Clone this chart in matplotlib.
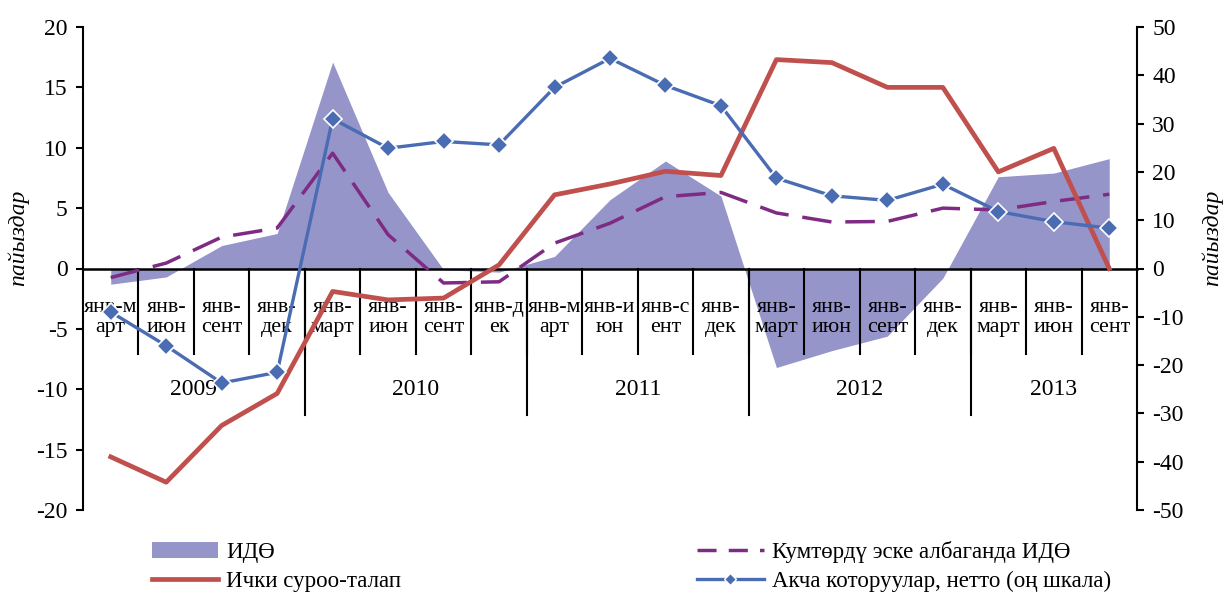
import matplotlib
matplotlib.use("Agg")
import matplotlib.pyplot as plt
from matplotlib.patches import Patch
from matplotlib.lines import Line2D

plt.rcParams["font.family"] = ["Liberation Serif", "DejaVu Serif"]
plt.rcParams["axes.unicode_minus"] = False

periods = ["янв-м\nарт", "янв-\nиюн", "янв-\nсент", "янв-\nдек",
           "янв-\nмарт", "янв-\nиюн", "янв-\nсент", "янв-д\nек",
           "янв-м\nарт", "янв-и\nюн", "янв-с\nент", "янв-\nдек",
           "янв-\nмарт", "янв-\nиюн", "янв-\nсент", "янв-\nдек",
           "янв-\nмарт", "янв-\nиюн", "янв-\nсент"]
years = ["2009", "2010", "2011", "2012", "2013"]
year_len = [4, 4, 4, 4, 3]

# left axis, percent
gdp = [-1.3, -0.7, 1.9, 2.9, 17.1, 6.3, -0.1, -0.3, 1.0, 5.7, 8.9, 6.0,
       -8.2, -6.8, -5.6, -0.8, 7.6, 7.9, 9.1]
gdp_ex_kumtor = [-0.75, 0.45, 2.6, 3.35, 9.55, 2.8, -1.2, -1.1, 2.1, 3.75, 5.95, 6.3,
                 4.6, 3.85, 3.9, 5.0, 4.85, 5.55, 6.15]
demand = [-15.6, -17.7, -13.0, -10.35, -1.9, -2.6, -2.45, 0.3, 6.1, 7.0, 8.05, 7.7,
          17.3, 17.05, 15.0, 15.0, 8.0, 9.95, 0.0]
# right axis
transfers = [-9.0, -16.0, -23.7, -21.5, 31.0, 24.9, 26.3, 25.6, 37.5, 43.5, 37.9, 33.7,
             18.7, 15.05, 14.1, 17.45, 11.8, 9.7, 8.35]

c_area = "#9595C9"
c_red = "#C0504D"
c_blue = "#4A6CB3"
c_purple = "#7E2B83"
fs = 17

fig = plt.figure(figsize=(12.28, 5.99), dpi=100)
ax = fig.add_axes([83 / 1228, 1 - 510 / 599, 1054 / 1228, 483 / 599])
x = list(range(len(periods)))

ax.fill_between(x, 0, gdp, color=c_area, lw=0, zorder=1)
ax.plot(x, gdp_ex_kumtor, color=c_purple, lw=2.5, dashes=(8.5, 4), zorder=3)
ax.plot(x, demand, color=c_red, lw=3.4, zorder=4)

ax.set_xlim(-0.5, len(periods) - 0.5)
ax.set_ylim(-20, 20)
ax.set_yticks(range(-20, 21, 5))
ax.set_xticks([])
for s in ["top", "right"]:
    ax.spines[s].set_visible(False)
ax.spines["bottom"].set_position(("data", 0))
ax.spines["bottom"].set_linewidth(1.8)
ax.spines["left"].set_linewidth(1.5)
ax.tick_params(axis="y", direction="out", length=5, width=1.5, labelsize=fs, pad=6)
ax.patch.set_alpha(0)

# category and year separators below the zero line
for i in range(len(periods) - 1):
    ax.plot([i + 0.5, i + 0.5], [0, -7.1], color="black", lw=1.5, zorder=2)
start = 0
for yr, n in zip(years, year_len):
    if start > 0:
        ax.plot([start - 0.5, start - 0.5], [0, -12.1], color="black", lw=1.5, zorder=2)
    ax.text(start + (n - 1) / 2, -10.0, yr, ha="center", va="center", fontsize=fs)
    start += n
for i, lab in enumerate(periods):
    ax.text(i, -4.05, lab, ha="center", va="center", fontsize=fs - 1.2,
            linespacing=1.02, zorder=2)

ax2 = ax.twinx()
ax2.plot(x, transfers, color=c_blue, lw=2.4, marker="D", markersize=9,
         markerfacecolor=c_blue, markeredgecolor="white", markeredgewidth=1.2, zorder=5)
ax2.set_ylim(-50, 50)
ax2.set_yticks(range(-50, 51, 10))
for s in ["top", "left", "bottom"]:
    ax2.spines[s].set_visible(False)
ax2.spines["right"].set_linewidth(1.5)
ax2.tick_params(axis="y", direction="out", length=5, width=1.5, labelsize=fs, pad=6)

fig.text(18 / 1228, 1 - 238 / 599, "пайыздар", rotation=90, style="italic",
         fontsize=fs, ha="center", va="center")
fig.text(1212 / 1228, 1 - 238 / 599, "пайыздар", rotation=90, style="italic",
         fontsize=fs, ha="center", va="center")

handles = [
    Patch(facecolor=c_area, edgecolor="none"),
    Line2D([], [], color=c_red, lw=3.4),
    Line2D([], [], color=c_purple, lw=2.5, dashes=(5.5, 3.5)),
    Line2D([], [], color=c_blue, lw=2.4, marker="D", markersize=6,
           markerfacecolor=c_blue, markeredgecolor="white"),
]
labels = ["ИДӨ", "Ички суроо-талап", "Кумтөрдү эске албаганда ИДӨ",
          "Акча которуулар, нетто (оң шкала)"]
fig.legend(handles, labels, ncol=2, loc="upper left", bbox_to_anchor=(152 / 1228, 1 - 541 / 599),
           frameon=False, fontsize=fs - 0.5, handlelength=2.9, handletextpad=0.35,
           columnspacing=12.9, labelspacing=0.35, borderpad=0, borderaxespad=0)

fig.savefig("out.png", dpi=100)
